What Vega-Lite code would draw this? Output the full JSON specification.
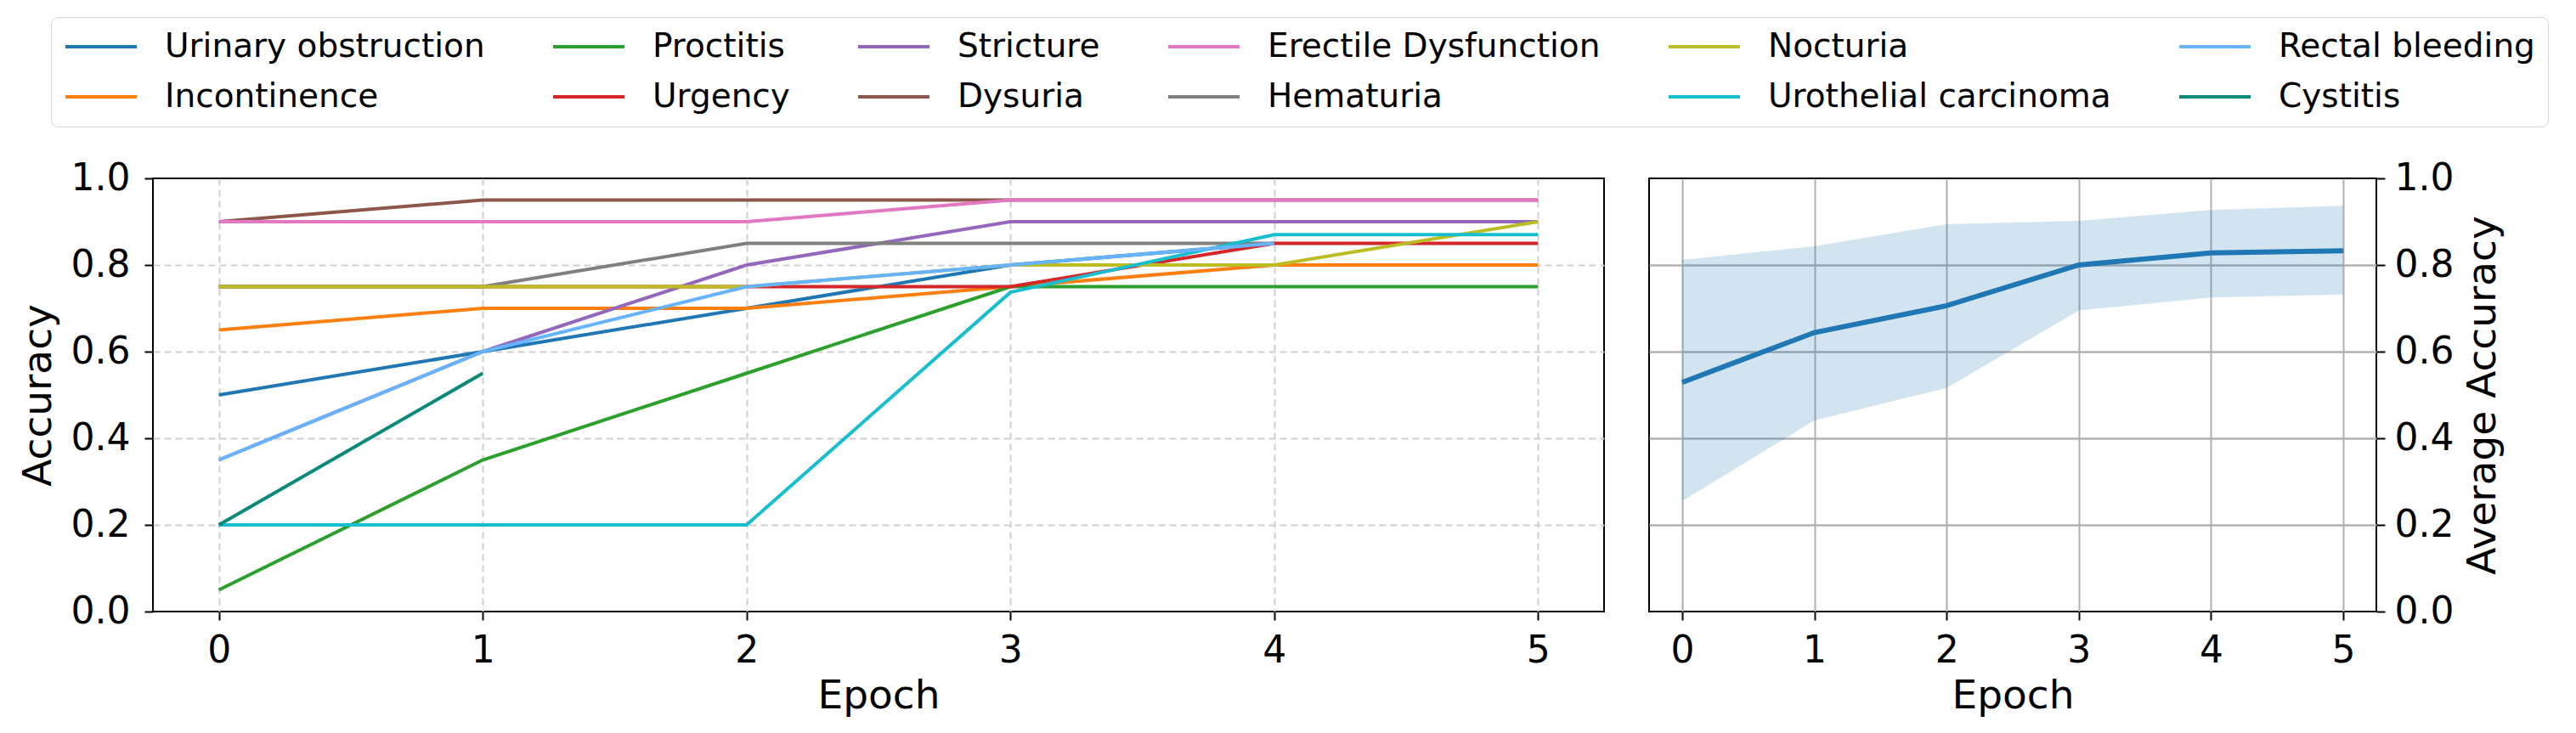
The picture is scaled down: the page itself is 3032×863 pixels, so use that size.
{
  "$schema": "https://vega.github.io/schema/vega-lite/v6.json",
  "autosize": {"type": "none"},
  "padding": {"left": 180, "top": 210, "right": 2852, "bottom": 653},
  "background": "white",
  "bounds": "flush",
  "spacing": 53,
  "config": {
    "font": "DejaVu Sans",
    "view": {"stroke": "black", "strokeWidth": 2},
    "axis": {
      "labelFont": "DejaVu Sans",
      "labelFontSize": 44,
      "labelColor": "black",
      "titleFont": "DejaVu Sans",
      "titleFontSize": 47,
      "titleFontWeight": "normal",
      "titleColor": "black",
      "tickColor": "black",
      "tickWidth": 2,
      "tickSize": 10,
      "domain": false
    }
  },
  "hconcat": [
    {
      "width": 1708,
      "height": 510,
      "data": {
        "values": [
          {"series": "Urinary obstruction", "epoch": 0, "acc": 0.5},
          {"series": "Urinary obstruction", "epoch": 1, "acc": 0.6},
          {"series": "Urinary obstruction", "epoch": 2, "acc": 0.7},
          {"series": "Urinary obstruction", "epoch": 3, "acc": 0.8},
          {"series": "Urinary obstruction", "epoch": 4, "acc": 0.85},
          {"series": "Incontinence", "epoch": 0, "acc": 0.65},
          {"series": "Incontinence", "epoch": 1, "acc": 0.7},
          {"series": "Incontinence", "epoch": 2, "acc": 0.7},
          {"series": "Incontinence", "epoch": 3, "acc": 0.75},
          {"series": "Incontinence", "epoch": 4, "acc": 0.8},
          {"series": "Incontinence", "epoch": 5, "acc": 0.8},
          {"series": "Proctitis", "epoch": 0, "acc": 0.05},
          {"series": "Proctitis", "epoch": 1, "acc": 0.35},
          {"series": "Proctitis", "epoch": 2, "acc": 0.55},
          {"series": "Proctitis", "epoch": 3, "acc": 0.75},
          {"series": "Proctitis", "epoch": 4, "acc": 0.75},
          {"series": "Proctitis", "epoch": 5, "acc": 0.75},
          {"series": "Urgency", "epoch": 0, "acc": 0.75},
          {"series": "Urgency", "epoch": 1, "acc": 0.75},
          {"series": "Urgency", "epoch": 2, "acc": 0.75},
          {"series": "Urgency", "epoch": 3, "acc": 0.75},
          {"series": "Urgency", "epoch": 4, "acc": 0.85},
          {"series": "Urgency", "epoch": 5, "acc": 0.85},
          {"series": "Stricture", "epoch": 0, "acc": 0.35},
          {"series": "Stricture", "epoch": 1, "acc": 0.6},
          {"series": "Stricture", "epoch": 2, "acc": 0.8},
          {"series": "Stricture", "epoch": 3, "acc": 0.9},
          {"series": "Stricture", "epoch": 4, "acc": 0.9},
          {"series": "Stricture", "epoch": 5, "acc": 0.9},
          {"series": "Dysuria", "epoch": 0, "acc": 0.9},
          {"series": "Dysuria", "epoch": 1, "acc": 0.95},
          {"series": "Dysuria", "epoch": 2, "acc": 0.95},
          {"series": "Dysuria", "epoch": 3, "acc": 0.95},
          {"series": "Dysuria", "epoch": 4, "acc": 0.95},
          {"series": "Dysuria", "epoch": 5, "acc": 0.95},
          {"series": "Erectile Dysfunction", "epoch": 0, "acc": 0.9},
          {"series": "Erectile Dysfunction", "epoch": 1, "acc": 0.9},
          {"series": "Erectile Dysfunction", "epoch": 2, "acc": 0.9},
          {"series": "Erectile Dysfunction", "epoch": 3, "acc": 0.95},
          {"series": "Erectile Dysfunction", "epoch": 4, "acc": 0.95},
          {"series": "Erectile Dysfunction", "epoch": 5, "acc": 0.95},
          {"series": "Hematuria", "epoch": 0, "acc": 0.75},
          {"series": "Hematuria", "epoch": 1, "acc": 0.75},
          {"series": "Hematuria", "epoch": 2, "acc": 0.85},
          {"series": "Hematuria", "epoch": 3, "acc": 0.85},
          {"series": "Hematuria", "epoch": 4, "acc": 0.85},
          {"series": "Nocturia", "epoch": 0, "acc": 0.75},
          {"series": "Nocturia", "epoch": 1, "acc": 0.75},
          {"series": "Nocturia", "epoch": 2, "acc": 0.75},
          {"series": "Nocturia", "epoch": 3, "acc": 0.8},
          {"series": "Nocturia", "epoch": 4, "acc": 0.8},
          {"series": "Nocturia", "epoch": 5, "acc": 0.9},
          {"series": "Urothelial carcinoma", "epoch": 0, "acc": 0.2},
          {"series": "Urothelial carcinoma", "epoch": 1, "acc": 0.2},
          {"series": "Urothelial carcinoma", "epoch": 2, "acc": 0.2},
          {"series": "Urothelial carcinoma", "epoch": 3, "acc": 0.737},
          {"series": "Urothelial carcinoma", "epoch": 4, "acc": 0.87},
          {"series": "Urothelial carcinoma", "epoch": 5, "acc": 0.87},
          {"series": "Rectal bleeding", "epoch": 0, "acc": 0.35},
          {"series": "Rectal bleeding", "epoch": 1, "acc": 0.6},
          {"series": "Rectal bleeding", "epoch": 2, "acc": 0.75},
          {"series": "Rectal bleeding", "epoch": 3, "acc": 0.8},
          {"series": "Rectal bleeding", "epoch": 4, "acc": 0.85},
          {"series": "Cystitis", "epoch": 0, "acc": 0.2},
          {"series": "Cystitis", "epoch": 1, "acc": 0.55}
        ]
      },
      "mark": {"type": "line", "strokeWidth": 4},
      "encoding": {
        "x": {
          "field": "epoch",
          "type": "quantitative",
          "scale": {"domain": [-0.25, 5.25], "nice": false, "zero": false},
          "axis": {
            "title": "Epoch",
            "values": [0, 1, 2, 3, 4, 5],
            "format": "d",
            "labelPadding": 14,
            "titlePadding": 8,
            "grid": true,
            "gridDash": [8, 5],
            "gridColor": "#cfcfcf",
            "gridWidth": 2
          }
        },
        "y": {
          "field": "acc",
          "type": "quantitative",
          "scale": {"domain": [0, 1], "nice": false},
          "axis": {
            "title": "Accuracy",
            "values": [0, 0.2, 0.4, 0.6, 0.8, 1],
            "format": ".1f",
            "labelPadding": 17,
            "titlePadding": 14,
            "grid": true,
            "gridDash": [8, 5],
            "gridColor": {
              "condition": {"test": "datum.value <= 0 || datum.value >= 1", "value": "transparent"},
              "value": "#cfcfcf"
            },
            "gridWidth": 2
          }
        },
        "color": {
          "field": "series",
          "type": "nominal",
          "scale": {
            "domain": [
              "Urinary obstruction", "Incontinence", "Proctitis", "Urgency", "Stricture", "Dysuria",
              "Erectile Dysfunction", "Hematuria", "Nocturia", "Urothelial carcinoma", "Rectal bleeding", "Cystitis"
            ],
            "range": [
              "#1f77b4", "#ff7f0e", "#2ca02c", "#d62728", "#9467bd", "#8c564b",
              "#e377c2", "#7f7f7f", "#bcbd22", "#17becf", "#66b3ff", "#0b8a7a"
            ]
          },
          "legend": {
            "orient": "none",
            "legendX": -120,
            "legendY": -190,
            "columns": 6,
            "title": null,
            "symbolType": "stroke",
            "symbolSize": 7056,
            "symbolStrokeWidth": 4,
            "clipHeight": 40,
            "labelFont": "DejaVu Sans",
            "labelFontSize": 39,
            "labelColor": "black",
            "labelOffset": 31,
            "labelLimit": 0,
            "columnPadding": 78,
            "rowPadding": 19,
            "padding": 15,
            "strokeColor": "#d5d5d5",
            "fillColor": "white",
            "cornerRadius": 8
          }
        }
      }
    },
    {
      "width": 856,
      "height": 510,
      "data": {
        "values": [
          {"epoch": 0, "mean": 0.529, "lo": 0.255, "hi": 0.812},
          {"epoch": 1, "mean": 0.644, "lo": 0.441, "hi": 0.843},
          {"epoch": 2, "mean": 0.706, "lo": 0.516, "hi": 0.894},
          {"epoch": 3, "mean": 0.8, "lo": 0.695, "hi": 0.902},
          {"epoch": 4, "mean": 0.828, "lo": 0.725, "hi": 0.927},
          {"epoch": 5, "mean": 0.833, "lo": 0.732, "hi": 0.937}
        ]
      },
      "encoding": {
        "x": {
          "field": "epoch",
          "type": "quantitative",
          "scale": {"domain": [-0.25, 5.25], "nice": false, "zero": false},
          "axis": {
            "title": "Epoch",
            "values": [0, 1, 2, 3, 4, 5],
            "format": "d",
            "labelPadding": 14,
            "titlePadding": 8,
            "grid": true,
            "gridColor": "#b0b0b0",
            "gridWidth": 2
          }
        }
      },
      "layer": [
        {
          "mark": {"type": "area", "color": "#1f77b4", "opacity": 0.2},
          "encoding": {
            "y": {
              "field": "lo",
              "type": "quantitative",
              "title": "Average Accuracy",
              "scale": {"domain": [0, 1], "nice": false},
              "axis": {
                "orient": "right",
                "title": "Average Accuracy",
                "titleAngle": 270,
                "titleBaseline": "top",
                "values": [0, 0.2, 0.4, 0.6, 0.8, 1],
                "format": ".1f",
                "labelPadding": 11,
                "titlePadding": 12,
                "grid": true,
                "gridColor": {
                  "condition": {"test": "datum.value <= 0 || datum.value >= 1", "value": "transparent"},
                  "value": "#b0b0b0"
                },
                "gridWidth": 2.5
              }
            },
            "y2": {"field": "hi"}
          }
        },
        {
          "mark": {"type": "line", "color": "#1f77b4", "strokeWidth": 6},
          "encoding": {
            "y": {
              "field": "mean",
              "type": "quantitative",
              "title": "Average Accuracy"
            }
          }
        }
      ]
    }
  ]
}
